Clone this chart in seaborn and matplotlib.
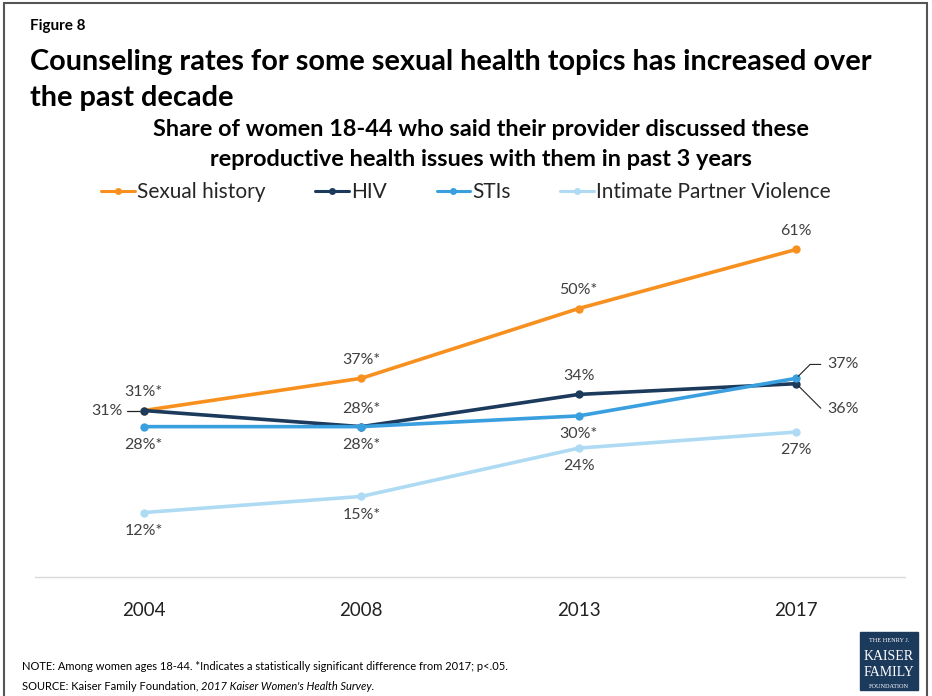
import pandas as pd
import matplotlib.pyplot as plt
import seaborn as sns
from matplotlib.patches import Rectangle
from matplotlib.lines import Line2D

anos = ['2004', '2008', '2013', '2017']
sexual_history = [31, 37, 50, 61]
hiv = [31, 28, 34, 36]
stis = [28, 28, 30, 37]
ipv = [12, 15, 24, 27]

rotulos_sh = ['31%*', '37%*', '50%*', '61%']
rotulos_hiv = ['31%', '28%*', '34%', '36%']
rotulos_sti = ['28%*', '28%*', '30%*', '37%']
rotulos_ipv = ['12%*', '15%*', '24%', '27%']

series = ['Sexual history', 'HIV', 'STIs', 'Intimate Partner Violence']
cores = ['#F7901E', '#1B3A5C', '#3A9FDF', '#AEDBF3']

dados = pd.DataFrame({
    'pos': list(range(len(anos))) * 4,
    'valor': sexual_history + hiv + stis + ipv,
    'serie': [s for s in series for _ in anos],
})

sns.set_style('white')
plt.rcParams['font.family'] = ['Lato', 'DejaVu Sans']

fig = plt.figure(figsize=(9.32, 6.96), dpi=100)
ax = fig.add_axes([35 / 932, 1 - 577 / 696, 870 / 932, 360 / 696])

sns.lineplot(data=dados, x='pos', y='valor', hue='serie', palette=cores,
             hue_order=series, marker='o', markersize=6, markeredgewidth=0,
             linewidth=2.6, ax=ax, legend=False)

ax.set_xlim(-0.5, 3.5)
ax.set_ylim(0, 360 / 5.37)
ax.set_xticks(range(len(anos)))
ax.set_xticklabels(anos, fontsize=13.5, color='#222222')
ax.set_yticks([])
ax.set_xlabel('')
ax.set_ylabel('')
ax.tick_params(axis='x', length=0, pad=18)
for lado in ['top', 'right', 'left']:
    ax.spines[lado].set_visible(False)
ax.spines['bottom'].set_color('#D9D9D9')
ax.spines['bottom'].set_linewidth(1)

cor_txt = '#404040'
fs = 11.5
linha = dict(arrowstyle='-', color='#222222', lw=0.8)

def rotular(valores, rotulos, offsets):
    for i, (v, r) in enumerate(zip(valores, rotulos)):
        if offsets[i] is None:
            continue
        dx, dy, ha, va = offsets[i]
        ax.annotate(r, (i, v), xytext=(dx, dy), textcoords='offset points',
                    ha=ha, va=va, fontsize=fs, color=cor_txt)

cima = (0, 8, 'center', 'bottom')
baixo = (0, -8, 'center', 'top')
rotular(sexual_history, rotulos_sh, [cima, cima, cima, cima])
rotular(hiv, rotulos_hiv, [(-15, 0, 'right', 'center'), cima, cima, None])
rotular(stis, rotulos_sti, [baixo, baixo, baixo, None])
rotular(ipv, rotulos_ipv, [baixo, baixo, baixo, baixo])

# linha guia curta do rotulo 31% (HIV 2004)
ax.plot([-0.075, -0.018], [hiv[0], hiv[0]], color='#222222', lw=0.9, zorder=1)

ax.annotate(rotulos_sti[3], (3, stis[3]), xytext=(22, 10), textcoords='offset points',
            ha='left', va='center', fontsize=fs, color=cor_txt,
            arrowprops=dict(linha, connectionstyle='angle,angleA=0,angleB=45,rad=0',
                            relpos=(0, 0.5), shrinkA=2, shrinkB=2))
ax.annotate(rotulos_hiv[3], (3, hiv[3]), xytext=(22, -18), textcoords='offset points',
            ha='left', va='center', fontsize=fs, color=cor_txt,
            arrowprops=dict(linha, connectionstyle='angle,angleA=0,angleB=-45,rad=0',
                            relpos=(0, 0.5), shrinkA=2, shrinkB=2))

# legenda
handles = [Line2D([], [], color=c, marker='o', markersize=5, markeredgewidth=0, lw=2.2)
           for c in cores]
fig.legend(handles, series, loc='center', bbox_to_anchor=(466 / 932, 1 - 192 / 696),
           ncol=4, frameon=False, fontsize=15, handlelength=1.6, handletextpad=0.1,
           columnspacing=2.4)

# titulos
fig.text(30 / 932, 1 - 26 / 696, 'Figure 8', fontsize=11, fontweight='bold',
         ha='left', va='center', color='black')
fig.text(30 / 932, 1 - 62 / 696, 'Counseling rates for some sexual health topics has increased over',
         fontsize=20.8, fontweight='bold', ha='left', va='center', color='black')
fig.text(30 / 932, 1 - 98 / 696, 'the past decade',
         fontsize=20.8, fontweight='bold', ha='left', va='center', color='black')
fig.text(481 / 932, 1 - 130 / 696, 'Share of women 18-44 who said their provider discussed these',
         fontsize=16.9, fontweight='bold', ha='center', va='center', color='black')
fig.text(481 / 932, 1 - 160 / 696, 'reproductive health issues with them in past 3 years',
         fontsize=16.9, fontweight='bold', ha='center', va='center', color='black')

# notas
fig.text(22 / 932, 1 - 667 / 696,
         'NOTE: Among women ages 18-44. *Indicates a statistically significant difference from 2017; p<.05.',
         fontsize=8, ha='left', va='center', color='black')
fonte = fig.text(22 / 932, 1 - 686 / 696, 'SOURCE: Kaiser Family Foundation, ',
                 fontsize=8, ha='left', va='center', color='black')
fig.add_artist(plt.Annotation("2017 Kaiser Women's Health Survey.", xy=(1, 0.5),
                              xycoords=fonte, ha='left', va='center', fontsize=8,
                              color='black', style='italic'))

# logo
fig.patches.append(Rectangle((860 / 932, 1 - 690 / 696), 58 / 932, 58 / 696,
                             transform=fig.transFigure, color='#1B3A5C', zorder=5))
logo_y = [(641, 'THE HENRY J.', 4.5), (656, 'KAISER', 10), (673, 'FAMILY', 10), (686, 'FOUNDATION', 4.5)]
for y, txt, s in logo_y:
    fig.text(889 / 932, 1 - y / 696, txt, fontsize=s, family='Liberation Serif',
             ha='center', va='center', color='white', zorder=6)

# moldura
fig.patches.append(Rectangle((4 / 932, -0.01), 923 / 932, 1 - 3 / 696 + 0.01,
                             transform=fig.transFigure, fill=False,
                             edgecolor='#555555', lw=1.5, zorder=10))

fig.savefig('out.png', dpi=100)
